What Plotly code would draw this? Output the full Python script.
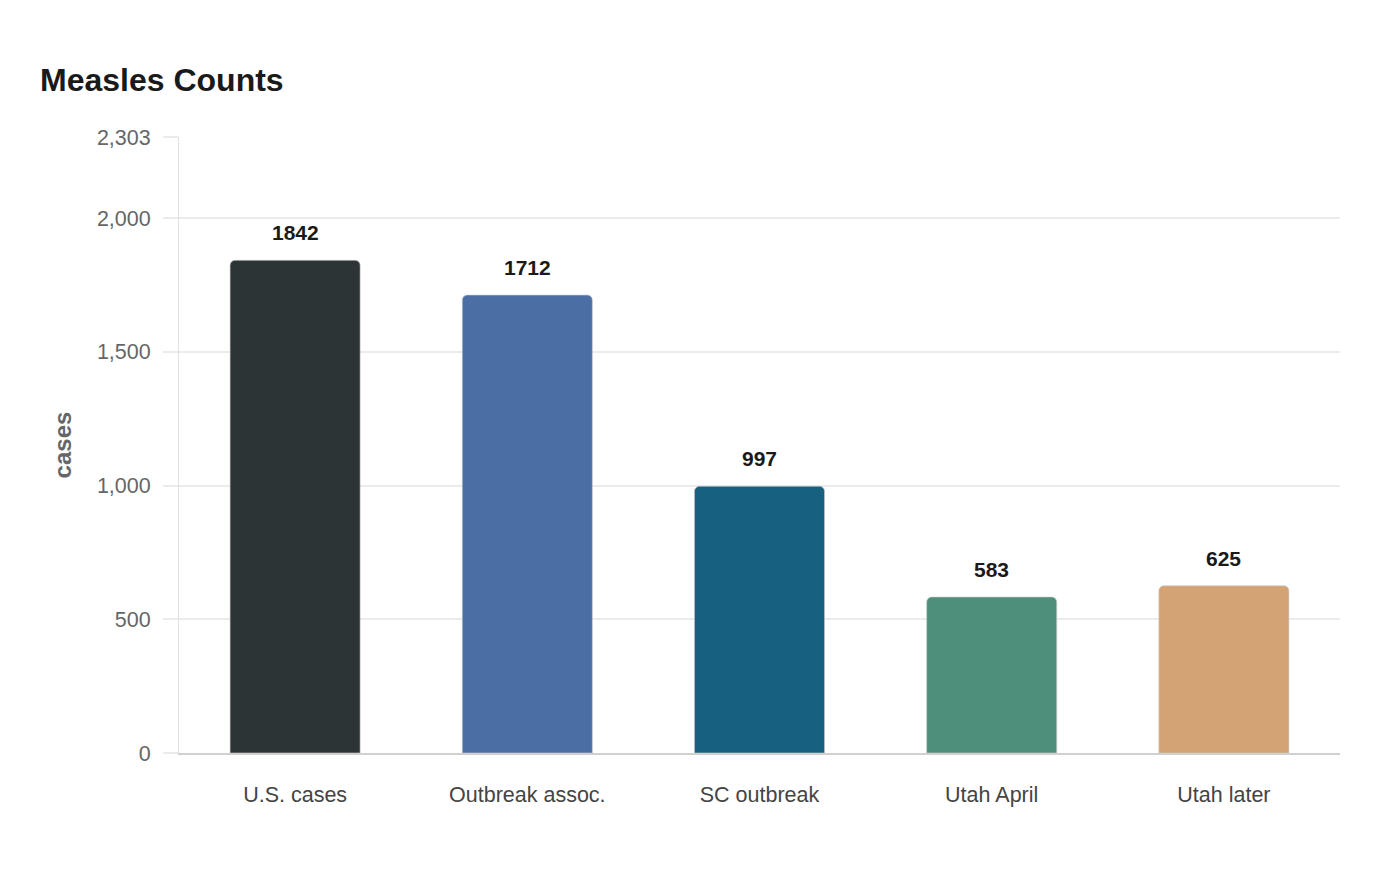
import plotly.graph_objects as go

categories = ["U.S. cases", "Outbreak assoc.", "SC outbreak", "Utah April", "Utah later"]
cases = [1842, 1712, 997, 583, 625]
bar_colors = ["#2d3436", "#4a6fa5", "#17607f", "#4e8f7c", "#d4a373"]
tick_vals = [0, 500, 1000, 1500, 2000, 2303]
tick_text = [f"{v:,}" for v in tick_vals]

fig = go.Figure()
fig.add_trace(go.Bar(
    x=categories, y=cases,
    marker=dict(color=bar_colors, line=dict(color="rgba(200,200,200,0.6)", width=1)),
    marker_cornerradius=5,
    hovertemplate="%{x}: %{y}<extra></extra>",
))

# value labels above the bars
for cat, val in zip(categories, cases):
    fig.add_annotation(x=cat, y=val, text=f"<b>{val}</b>", showarrow=False,
                       yanchor="bottom", yshift=14,
                       font=dict(size=21, color="#1a1a1a", family="Liberation Sans, Arial"))

fig.update_layout(
    width=1400, height=880,
    paper_bgcolor="white", plot_bgcolor="white",
    margin=dict(l=171, r=68, t=129, b=135),
    bargap=0.44,
    showlegend=False,
    font=dict(family="Liberation Sans, Arial", size=21, color="#555555"),
    title=dict(text="<b>Measles Counts</b>", x=32/1400, xref="container", xanchor="left",
               y=1-72/880, yref="container", yanchor="middle",
               font=dict(size=32, color="#1a1a1a")),
)
fig.update_xaxes(showgrid=False, showline=True, linecolor="#d0d0d0", linewidth=1.5,
                 ticks="", tickfont=dict(size=21.5, color="#444444"), ticklabelstandoff=21)
fig.update_yaxes(range=[0, 2303], tickvals=tick_vals, ticktext=tick_text,
                 showgrid=True, gridcolor="#ebebeb", gridwidth=1.5, zeroline=False,
                 showline=True, linecolor="#e0e0e0", linewidth=1,
                 ticks="outside", ticklen=15, tickcolor="#ebebeb", tickwidth=1.5,
                 ticklabelstandoff=8,
                 tickfont=dict(size=21.5, color="#666666"),
                 title=dict(text="<b>cases</b>", font=dict(size=24, color="#666666"), standoff=18))

fig.write_html("out.html")
